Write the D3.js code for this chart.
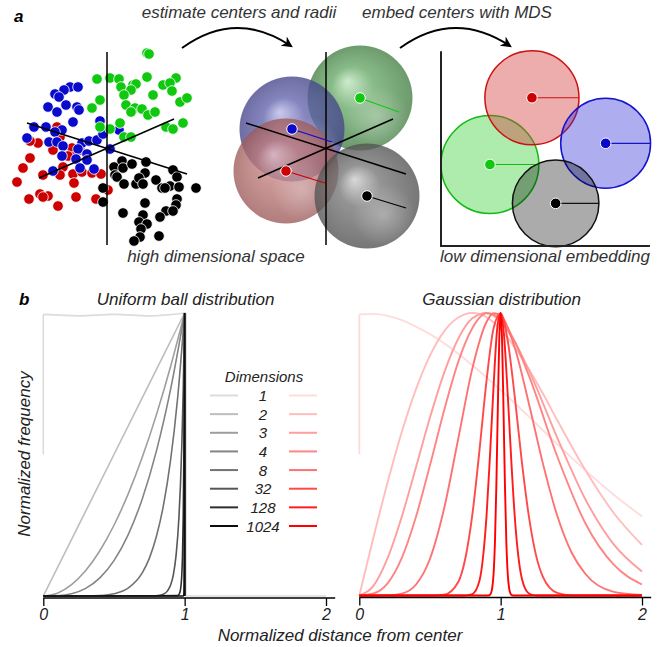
<!DOCTYPE html>
<html>
<head>
<meta charset="utf-8">
<script src="https://cdn.jsdelivr.net/npm/d3@7"></script>
<style>
  body { margin: 0; background: #fff; }
  svg { display: block; font-family: "Liberation Sans", Arial, sans-serif; }
  text { font-style: italic; fill: #222; }
</style>
</head>
<body>
<div id="figure"></div>
<script>
// --------------- Data: panel a ---------------
// cluster points in "feature" units, origin at the axes crossing, y up
const redPoints = [
  [-5.0, 2.1], [-4.7, 1.1], [-6.9, 0.5], [-7.7, 0.7], [-5.4, -0.2], [-3.5, 0.0],
  [-3.4, -0.9], [-3.9, -0.8], [-7.7, -1.0], [-8.4, -2.0], [-4.4, -1.9], [-6.4, -2.7],
  [-4.7, -2.7], [-3.4, -2.6], [-2.5, -2.4], [-1.5, -2.5], [-0.6, -2.6], [-9.0, -3.4],
  [-3.3, -3.5], [-7.8, -5.1], [-6.7, -4.6], [-5.9, -4.8], [-6.4, -4.9], [-4.9, -5.8],
  [-3.1, -4.9], [-1.1, -5.1], [-2.7, -0.2], [0.1, -4.2]
];
const bluePoints = [
  [-3.7, 6.1], [-2.9, 6.1], [-4.3, 5.8], [-5.2, 5.4], [-4.8, 5.1], [-5.9, 4.1],
  [-4.1, 4.3], [-3.0, 4.1], [-2.8, 3.8], [-5.0, 3.6], [-3.4, 2.6], [-0.7, 2.7],
  [-7.3, 2.1], [-6.1, 2.1], [-4.5, 1.8], [-5.2, 1.6], [-8.0, 1.0], [-5.8, 0.6],
  [-5.0, 0.6], [-4.4, 0.2], [-2.5, 0.5], [-1.8, 0.7], [-1.0, 0.8], [-0.4, 1.4],
  [-2.9, -0.1], [-2.0, -0.6], [-4.5, -0.8], [-3.1, -1.1], [-2.0, -1.2], [-2.7, -2.0],
  [-5.4, -2.3], [-1.3, -2.1], [1.2, 1.8], [0.3, -0.1]
];
const greenPoints = [
  [4.0, 9.5], [4.2, 9.4], [0.3, 7.0], [1.2, 6.9], [4.0, 7.1], [6.9, 7.0],
  [5.6, 6.3], [6.3, 6.5], [6.5, 5.7], [1.4, 6.1], [2.6, 6.3], [2.9, 6.4],
  [2.4, 5.8], [1.7, 5.3], [4.6, 5.3], [7.3, 4.6], [8.0, 5.0], [1.9, 4.3],
  [2.8, 4.0], [2.4, 3.6], [3.5, 3.9], [4.1, 3.3], [4.8, 3.6], [-0.7, 4.8],
  [-1.0, 6.9], [-1.5, 4.0], [1.3, 2.5], [0.3, 1.9], [1.7, 1.1], [2.4, 1.1],
  [5.9, 2.1], [6.6, 1.9], [7.6, 2.5], [-0.7, 2.1]
];
const blackPoints = [
  [1.5, -1.3], [0.7, -1.9], [1.6, -2.0], [2.5, -1.6], [3.9, -1.4], [6.6, -2.2],
  [0.8, -2.7], [1.0, -2.9], [3.8, -2.5], [-0.4, -4.0], [1.7, -3.6], [2.9, -3.6],
  [3.2, -3.0], [3.6, -3.6], [4.9, -3.2], [7.0, -2.9], [5.5, -4.0], [6.3, -3.8],
  [7.2, -3.9], [8.9, -4.0], [5.8, -4.0], [-0.4, -5.4], [3.8, -5.5], [7.0, -5.1],
  [6.9, -5.7], [5.9, -6.3], [6.6, -6.3], [1.6, -6.5], [3.6, -6.7], [5.3, -6.9],
  [3.2, -7.4], [4.0, -7.6], [3.4, -8.1], [5.2, -8.8], [3.3, -8.9], [2.7, -9.3]
];
// three projected axes of the high dimensional space
const axisSegments = [
  [[0, 9.6], [0, -9.7]],
  [[-8.0, 2.5], [8.0, -2.6]],
  [[-6.8, -3.0], [6.7, 2.9]]
];
// estimated centres, radii and the end of the drawn radius
const clusterNames = ["green", "blue", "red", "black"];
const clusterColors = ["#11c811", "#0a0acc", "#cc0000", "#000000"];
const sphereCenters = [[3.4, 5.0], [-3.4, 1.9], [-4.0, -2.3], [4.1, -4.8]];
const sphereRadius = [5.25, 5.25, 5.25, 5.25];
const radiusEnds = [[7.3, 3.6], [0.6, 0.6], [-0.1, -3.5], [8.0, -6.0]];
// MDS embedding (low dimensional)
const embedCenters = [[2.33, 3.88], [7.84, 4.89], [4.33, 7.06], [5.46, 2.03]];
const embedRadius = [2.33, 2.14, 2.24, 2.06];

// --------------- Data: panel b ---------------
const dimensions = ["1", "2", "3", "4", "8", "32", "128", "1024"];
const grayShades = ["#dcdcdc", "#bdbdbd", "#9e9e9e", "#848484", "#727272", "#575757", "#2e2e2e", "#0d0d0d"];
const redShades = ["#ffdcdc", "#ffbdbd", "#ff9e9e", "#ff8484", "#ff7272", "#ff4a4a", "#ff1c1c", "#ff0000"];
const xTicks = [0, 1, 2];

const uniform1 = [[0, 0.5], [0, 0.995], [0.25, 0.99], [0.5, 0.995], [0.75, 0.99], [1.01, 1], [1.01, 0], [2, 0]];
const uniform2 = [[0, 0], [0.5, 0.5], [1, 1], [1, 0]];
const uniform3 = [[0, 0], [0.1, 0.01], [0.2, 0.04], [0.3, 0.09], [0.4, 0.16], [0.5, 0.25], [0.6, 0.36],
  [0.7, 0.49], [0.8, 0.64], [0.9, 0.81], [1, 1], [1, 0]];
const uniform4 = [[0, 0], [0.1, 0.001], [0.2, 0.008], [0.3, 0.027], [0.4, 0.064], [0.5, 0.125], [0.6, 0.216],
  [0.7, 0.343], [0.8, 0.512], [0.9, 0.729], [1, 1], [1, 0]];
const uniform8 = [[0, 0], [0.3, 0.0002], [0.4, 0.0016], [0.5, 0.008], [0.6, 0.028], [0.7, 0.082], [0.75, 0.133],
  [0.8, 0.21], [0.85, 0.32], [0.9, 0.478], [0.95, 0.698], [1, 1], [1, 0]];
const uniform32 = [[0, 0], [0.8, 0.001], [0.85, 0.0065], [0.88, 0.019], [0.9, 0.038], [0.92, 0.075], [0.94, 0.147],
  [0.96, 0.282], [0.97, 0.389], [0.98, 0.534], [0.99, 0.732], [1, 1], [1, 0]];
const uniform128 = [[0, 0], [0.95, 0.0015], [0.96, 0.0056], [0.97, 0.021], [0.98, 0.077], [0.985, 0.146],
  [0.99, 0.279], [0.995, 0.53], [1, 1], [1, 0]];
const uniform1024 = [[0, 0], [0.99, 0.0001], [0.995, 0.006], [0.997, 0.046], [0.998, 0.129], [0.999, 0.36], [1, 1], [1, 0]];

const gauss1 = [[0, 0.5], [0, 0.995], [0.1, 0.997], [0.2, 0.99], [0.3, 0.975], [0.4, 0.952], [0.5, 0.925],
  [0.6, 0.893], [0.7, 0.856], [0.8, 0.815], [0.9, 0.772], [1, 0.727], [1.2, 0.633], [1.4, 0.536],
  [1.6, 0.443], [1.8, 0.357], [2, 0.28]];
const gauss2 = [[0, 0], [0.1, 0.205], [0.2, 0.4], [0.3, 0.578], [0.4, 0.729], [0.5, 0.849], [0.6, 0.935],
  [0.7, 0.984], [0.8, 1], [0.9, 0.985], [1, 0.942], [1.1, 0.878], [1.2, 0.801], [1.3, 0.714], [1.4, 0.621],
  [1.6, 0.443], [1.8, 0.292], [2, 0.179]];
const gauss3 = [[0, 0], [0.1, 0.034], [0.2, 0.132], [0.3, 0.278], [0.4, 0.452], [0.5, 0.63], [0.6, 0.788],
  [0.7, 0.909], [0.8, 0.981], [0.9, 1], [1, 0.969], [1.1, 0.897], [1.2, 0.797], [1.4, 0.559], [1.6, 0.34],
  [1.8, 0.181], [2, 0.085]];
const gauss4 = [[0, 0], [0.1, 0.007], [0.2, 0.043], [0.3, 0.132], [0.4, 0.277], [0.5, 0.461], [0.6, 0.655],
  [0.7, 0.827], [0.8, 0.947], [0.9, 0.999], [1, 0.979], [1.1, 0.899], [1.2, 0.778], [1.4, 0.493],
  [1.6, 0.255], [1.8, 0.109], [2, 0.039]];
const gauss8 = [[0, 0], [0.2, 0.0005], [0.3, 0.0066], [0.4, 0.038], [0.5, 0.13], [0.6, 0.308], [0.7, 0.555],
  [0.8, 0.804], [0.9, 0.968], [0.95, 0.999], [1, 0.991], [1.1, 0.877], [1.2, 0.679], [1.3, 0.465],
  [1.4, 0.283], [1.5, 0.154], [1.6, 0.076], [1.8, 0.013], [2, 0.002]];
const gauss32 = [[0, 0], [0.5, 0], [0.6, 0.003], [0.7, 0.048], [0.75, 0.131], [0.8, 0.287], [0.85, 0.513],
  [0.9, 0.76], [0.95, 0.946], [1, 0.998], [1.05, 0.902], [1.1, 0.703], [1.15, 0.473], [1.2, 0.279],
  [1.25, 0.143], [1.3, 0.065], [1.4, 0.009], [1.5, 0.0005], [2, 0]];
const gauss128 = [[0, 0], [0.75, 0], [0.8, 0.005], [0.85, 0.052], [0.875, 0.134], [0.9, 0.281], [0.925, 0.5],
  [0.95, 0.741], [0.975, 0.941], [1, 1], [1.025, 0.914], [1.05, 0.712], [1.075, 0.48], [1.1, 0.278],
  [1.125, 0.139], [1.15, 0.06], [1.2, 0.007], [1.25, 0], [2, 0]];
const gauss1024 = [[0, 0], [0.9, 0], [0.92, 0.001], [0.93, 0.007], [0.94, 0.025], [0.95, 0.077], [0.96, 0.194],
  [0.97, 0.398], [0.98, 0.664], [0.99, 0.903], [1, 1], [1.01, 0.903], [1.02, 0.664], [1.03, 0.398],
  [1.04, 0.194], [1.05, 0.077], [1.06, 0.025], [1.07, 0.007], [1.08, 0.001], [1.1, 0], [2, 0]];

const uniformSeries = [uniform1, uniform2, uniform3, uniform4, uniform8, uniform32, uniform128, uniform1024];
const gaussSeries = [gauss1, gauss2, gauss3, gauss4, gauss8, gauss32, gauss128, gauss1024];

// --------------- Constants ---------------
const WIDTH = 662;
const HEIGHT = 647;
const DOT_R = 5.3;

const svg = d3.select("#figure").append("svg")
  .attr("width", WIDTH)
  .attr("height", HEIGHT);
const defs = svg.append("defs");

// --------------- Panel a ---------------
function renderScatter() {
  const x = d3.scaleLinear().domain([-10, 10]).range([7, 207]);
  const y = d3.scaleLinear().domain([-10, 10]).range([248, 48]);
  const g = svg.append("g");

  const groups = [
    { pts: redPoints, color: clusterColors[2] },
    { pts: bluePoints, color: clusterColors[1] },
    { pts: greenPoints, color: clusterColors[0] },
    { pts: blackPoints, color: clusterColors[3] },
  ];
  groups.forEach(({ pts, color }) => {
    g.append("g").selectAll("circle")
      .data(pts)
      .enter()
      .append("circle")
      .attr("cx", (d) => x(d[0]))
      .attr("cy", (d) => y(d[1]))
      .attr("r", DOT_R)
      .attr("fill", color)
      .attr("stroke", "#fff")
      .attr("stroke-width", 0.8);
  });

  g.selectAll("line.axis")
    .data(axisSegments)
    .enter()
    .append("line")
    .attr("x1", (d) => x(d[0][0]))
    .attr("y1", (d) => y(d[0][1]))
    .attr("x2", (d) => x(d[1][0]))
    .attr("y2", (d) => y(d[1][1]))
    .attr("stroke", "#000")
    .attr("stroke-width", 1.5);
}

function renderSpheres() {
  const x = d3.scaleLinear().domain([-10, 10]).range([226, 426]);
  const y = d3.scaleLinear().domain([-10, 10]).range([248, 48]);
  const k = x(1) - x(0);

  const shades = {
    green: ["#bfe6bf", "#68a868", "#457f45"],
    blue: ["#bcbce8", "#6464ae", "#46468a"],
    red: ["#eec4c4", "#c07c7c", "#9c5a5a"],
    black: ["#cecece", "#767676", "#525252"],
  };
  clusterNames.forEach((name) => {
    const grad = defs.append("radialGradient")
      .attr("id", `sphere-${name}`)
      .attr("cx", "50%").attr("cy", "50%").attr("r", "50%")
      .attr("fx", "38%").attr("fy", "34%");
    grad.append("stop").attr("offset", "0%").attr("stop-color", shades[name][0]);
    grad.append("stop").attr("offset", "40%").attr("stop-color", shades[name][1]);
    grad.append("stop").attr("offset", "100%").attr("stop-color", shades[name][2]);
  });
  const glow = defs.append("radialGradient")
    .attr("id", "sphere-glow")
    .attr("cx", "66%").attr("cy", "68%").attr("r", "30%");
  glow.append("stop").attr("offset", "0%").attr("stop-color", "#fff").attr("stop-opacity", 0.3);
  glow.append("stop").attr("offset", "100%").attr("stop-color", "#fff").attr("stop-opacity", 0);

  const g = svg.append("g");
  const idx = [0, 1, 2, 3];
  const sphere = g.selectAll("g.sphere")
    .data(idx)
    .enter()
    .append("g")
    .attr("opacity", 0.78);
  sphere.append("circle")
    .attr("cx", (i) => x(sphereCenters[i][0]))
    .attr("cy", (i) => y(sphereCenters[i][1]))
    .attr("r", (i) => sphereRadius[i] * k)
    .attr("fill", (i) => `url(#sphere-${clusterNames[i]})`);
  sphere.append("circle")
    .attr("cx", (i) => x(sphereCenters[i][0]))
    .attr("cy", (i) => y(sphereCenters[i][1]))
    .attr("r", (i) => sphereRadius[i] * k)
    .attr("fill", "url(#sphere-glow)");

  g.selectAll("line.axis")
    .data(axisSegments)
    .enter()
    .append("line")
    .attr("x1", (d) => x(d[0][0]))
    .attr("y1", (d) => y(d[0][1]))
    .attr("x2", (d) => x(d[1][0]))
    .attr("y2", (d) => y(d[1][1]))
    .attr("stroke", "#000")
    .attr("stroke-width", 1.5);

  g.selectAll("line.radius")
    .data(idx)
    .enter()
    .append("line")
    .attr("x1", (i) => x(sphereCenters[i][0]))
    .attr("y1", (i) => y(sphereCenters[i][1]))
    .attr("x2", (i) => x(radiusEnds[i][0]))
    .attr("y2", (i) => y(radiusEnds[i][1]))
    .attr("stroke", (i) => clusterColors[i])
    .attr("stroke-width", 1.2);

  g.selectAll("circle.center")
    .data(idx)
    .enter()
    .append("circle")
    .attr("cx", (i) => x(sphereCenters[i][0]))
    .attr("cy", (i) => y(sphereCenters[i][1]))
    .attr("r", DOT_R)
    .attr("fill", (i) => clusterColors[i])
    .attr("stroke", "#fff")
    .attr("stroke-width", 1);
}

function renderEmbedding() {
  const x = d3.scaleLinear().domain([0, 10]).range([441, 651]);
  const y = d3.scaleLinear().domain([0, 10]).range([246, 36]);
  const k = x(1) - x(0);
  const fills = ["rgba(40,205,40,0.38)", "rgba(40,40,215,0.38)", "rgba(215,60,60,0.42)", "rgba(0,0,0,0.33)"];
  const strokes = ["#11bb11", "#1414cc", "#cc1111", "#111111"];
  const g = svg.append("g");

  // order: green, red, blue, black
  const order = [0, 2, 1, 3];
  const item = g.selectAll("g.embed")
    .data(order)
    .enter()
    .append("g");
  item.append("circle")
    .attr("cx", (i) => x(embedCenters[i][0]))
    .attr("cy", (i) => y(embedCenters[i][1]))
    .attr("r", (i) => embedRadius[i] * k)
    .attr("fill", (i) => fills[i])
    .attr("stroke", (i) => strokes[i])
    .attr("stroke-width", 1.5);
  item.append("line")
    .attr("x1", (i) => x(embedCenters[i][0]))
    .attr("y1", (i) => y(embedCenters[i][1]))
    .attr("x2", (i) => x(embedCenters[i][0] + embedRadius[i]))
    .attr("y2", (i) => y(embedCenters[i][1]))
    .attr("stroke", (i) => strokes[i])
    .attr("stroke-width", 1.2);
  item.append("circle")
    .attr("cx", (i) => x(embedCenters[i][0]))
    .attr("cy", (i) => y(embedCenters[i][1]))
    .attr("r", DOT_R)
    .attr("fill", (i) => clusterColors[i])
    .attr("stroke", "#fff")
    .attr("stroke-width", 1);

  // axes
  g.append("path")
    .attr("d", d3.line()([[x(0), y(9.27)], [x(0), y(0)], [x(9.95), y(0)]]))
    .attr("fill", "none")
    .attr("stroke", "#222")
    .attr("stroke-width", 2);
}

function renderPanelALabels() {
  defs.append("marker")
    .attr("id", "arrowhead")
    .attr("viewBox", "0 0 10 10")
    .attr("refX", 8).attr("refY", 5)
    .attr("markerWidth", 11).attr("markerHeight", 11)
    .attr("markerUnits", "userSpaceOnUse")
    .attr("orient", "auto")
    .append("path")
    .attr("d", "M0,0 L10,5 L0,10 L3,5 Z")
    .attr("fill", "#000");

  const arrows = [
    [[182, 48], [236, 9], [291, 46]],
    [[400, 48], [454, 9], [510, 46]],
  ];
  svg.selectAll("path.arrow")
    .data(arrows)
    .enter()
    .append("path")
    .attr("d", (d) => `M${d[0]}Q${d[1]} ${d[2]}`)
    .attr("fill", "none")
    .attr("stroke", "#000")
    .attr("stroke-width", 2)
    .attr("marker-end", "url(#arrowhead)");

  const labels = [
    { t: "estimate centers and radii", x: 239, y: 18 },
    { t: "embed centers with MDS", x: 457, y: 18 },
    { t: "high dimensional space", x: 216, y: 262 },
    { t: "low dimensional embedding", x: 545, y: 262 },
  ];
  svg.selectAll("text.alabel")
    .data(labels)
    .enter()
    .append("text")
    .attr("x", (d) => d.x)
    .attr("y", (d) => d.y)
    .attr("text-anchor", "middle")
    .style("font-size", "17px")
    .style("fill", "#333")
    .text((d) => d.t);

  svg.append("text")
    .attr("x", 14).attr("y", 22)
    .style("font-size", "17px")
    .style("font-weight", "bold")
    .style("fill", "#000")
    .text("a");
}

// --------------- Panel b ---------------
// split into runs of strictly increasing x so vertical drops stay straight
function splitRuns(pts) {
  const runs = [];
  let cur = [pts[0]];
  for (let i = 1; i < pts.length; i++) {
    const p = pts[i], q = pts[i - 1];
    if (p[0] === q[0]) {
      if (cur.length > 1) runs.push(cur);
      runs.push([q, p]);
      cur = [p];
    } else {
      cur.push(p);
    }
  }
  if (cur.length > 1) runs.push(cur);
  return runs;
}

function renderDistPanel({ series, colors, xRange, yRange, title, lineWidth }) {
  const x = d3.scaleLinear().domain([0, 2]).range(xRange);
  const y = d3.scaleLinear().domain([0, 1]).range(yRange);
  const line = d3.line()
    .x((d) => x(d[0]))
    .y((d) => y(d[1]))
    .curve(d3.curveMonotoneX);
  const g = svg.append("g");

  g.selectAll("path.curve")
    .data(series)
    .enter()
    .append("path")
    .attr("d", (d) => splitRuns(d).map((r) => line(r)).join(""))
    .attr("fill", "none")
    .attr("stroke", (_d, i) => colors[i])
    .attr("stroke-width", lineWidth)
    .attr("stroke-linejoin", "round");

  const axisY = yRange[0] + 2;
  const axis = d3.axisBottom(x)
    .tickValues(xTicks)
    .tickSize(8)
    .tickSizeOuter(0)
    .tickFormat(d3.format("d"));
  const ag = g.append("g")
    .attr("transform", `translate(0,${axisY})`)
    .call(axis);
  ag.select(".domain").remove();
  ag.selectAll(".tick line").attr("stroke", "#000").attr("stroke-width", 1.3);
  ag.selectAll(".tick text")
    .attr("y", 22)
    .attr("dy", 0)
    .style("font-family", "'Liberation Sans', Arial, sans-serif")
    .style("font-size", "16px")
    .style("font-style", "italic")
    .attr("fill", "#222");
  ag.append("line")
    .attr("x1", x(0)).attr("x2", x(2.065))
    .attr("y1", 0).attr("y2", 0)
    .attr("stroke", "#000")
    .attr("stroke-width", 1.5);

  g.append("text")
    .attr("x", (xRange[0] + xRange[1]) / 2 + 1)
    .attr("y", 305)
    .attr("text-anchor", "middle")
    .style("font-size", "17px")
    .text(title);
}

function renderLegend() {
  const rowY = d3.scalePoint().domain(dimensions).range([395.5, 526]);
  const g = svg.append("g");
  g.append("text")
    .attr("x", 264).attr("y", 381.5)
    .attr("text-anchor", "middle")
    .style("font-size", "15px")
    .text("Dimensions");
  const row = g.selectAll("g.row")
    .data(dimensions)
    .enter()
    .append("g")
    .attr("transform", (d) => `translate(0,${rowY(d)})`);
  row.append("line")
    .attr("x1", 210).attr("x2", 238)
    .attr("stroke", (_d, i) => grayShades[i])
    .attr("stroke-width", 2);
  row.append("line")
    .attr("x1", 289).attr("x2", 317)
    .attr("stroke", (_d, i) => redShades[i])
    .attr("stroke-width", 2);
  row.append("text")
    .attr("x", 263).attr("y", 5.5)
    .attr("text-anchor", "middle")
    .style("font-size", "15px")
    .text((d) => d);
}

function renderPanelBLabels() {
  svg.append("text")
    .attr("x", 19).attr("y", 305)
    .style("font-size", "17px")
    .style("font-weight", "bold")
    .style("fill", "#000")
    .text("b");
  svg.append("text")
    .attr("x", 340).attr("y", 641)
    .attr("text-anchor", "middle")
    .style("font-size", "17px")
    .text("Normalized distance from center");
  svg.append("text")
    .attr("transform", "translate(30,454) rotate(-90)")
    .attr("text-anchor", "middle")
    .style("font-size", "17px")
    .text("Normalized frequency");
}

renderScatter();
renderSpheres();
renderEmbedding();
renderPanelALabels();
renderDistPanel({
  series: uniformSeries,
  colors: grayShades,
  xRange: [43.3, 326],
  yRange: [596, 313],
  title: "Uniform ball distribution",
  lineWidth: 1.6,
});
renderDistPanel({
  series: gaussSeries,
  colors: redShades,
  xRange: [359.3, 642],
  yRange: [595.5, 313],
  title: "Gaussian distribution",
  lineWidth: 1.9,
});
renderLegend();
renderPanelBLabels();
</script>
</body>
</html>
